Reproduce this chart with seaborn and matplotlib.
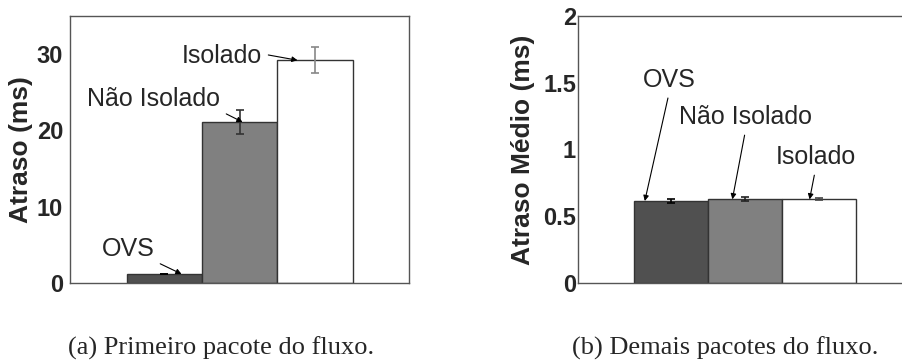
import numpy as np
import pandas as pd
import matplotlib
matplotlib.use('Agg')
import matplotlib.pyplot as plt
import seaborn as sns

# data
categorias = ['OVS', 'Não Isolado', 'Isolado']
cores = ['#505050', '#808080', '#ffffff']
atraso_primeiro = [1.18, 21.1, 29.2]
erro_primeiro = [0.06, 1.6, 1.7]
atraso_demais = [0.614, 0.627, 0.626]
erro_demais = [0.016, 0.016, 0.008]
ticks_a = [0, 10, 20, 30]
ticks_b = [0, 0.5, 1, 1.5, 2]
ticklabels_b = ['0', '0.5', '1', '1.5', '2']

# label positions (text x, text baseline y, arrow head x, arrow head y, relpos)
anot_a = [(-0.48, 3.54, 0.23, 1.18, (1, 0)),
          (-0.135, 23.2, 1.04, 21.1, (1, 0)),
          (0.77, 28.8, 1.77, 29.2, (1, 0.6))]
anot_b = [(-0.02, 1.468, -0.35, 0.614, (0.5, 0)),
          (1.01, 1.19, 0.83, 0.627, (0.5, 0)),
          (1.95, 0.89, 1.87, 0.626, (0.5, 0))]

sns.set_style('white')
plt.rcParams['font.family'] = ['Liberation Sans', 'DejaVu Sans']

fig = plt.figure(figsize=(9.02, 3.6), dpi=100)
ax1 = fig.add_axes([70/902, 77/360, 339/902, 267/360])
ax2 = fig.add_axes([578/902, 77/360, 334/902, 267/360])


def painel(ax, valores, erros, ylim, ticks, ticklabels, ylabel, anots, pad, labelx, errcores):
    df = pd.DataFrame({'cat': categorias, 'val': valores})
    sns.barplot(data=df, x='cat', y='val', hue='cat', palette=cores, legend=False,
                width=1.0, edgecolor='#333333', linewidth=1.0, ax=ax)
    for i in range(3):
        ax.errorbar(i, valores[i], yerr=erros[i], fmt='none', ecolor=errcores[i],
                    elinewidth=1.2, capsize=3, capthick=1.2)
    ax.set_xlim(-1.25, 3.25)
    ax.set_ylim(*ylim)
    ax.set_xticks([])
    ax.set_xlabel('')
    ax.set_yticks(ticks)
    ax.set_yticklabels(ticklabels, fontsize=17, fontweight='bold')
    ax.tick_params(axis='y', length=0, pad=pad)
    ax.set_ylabel(ylabel, fontsize=19, fontweight='bold')
    ax.yaxis.set_label_coords(labelx, 0.5)
    for s in ax.spines.values():
        s.set_color('#555555')
        s.set_linewidth(1.0)
    for (tx, ty, hx, hy, rp), nome in zip(anots, categorias):
        ax.annotate(nome, xy=(hx, hy), xytext=(tx, ty), ha='center', va='baseline',
                    fontsize=18,
                    arrowprops=dict(arrowstyle='-|>', color='black', lw=0.8,
                                    mutation_scale=8, shrinkA=2, shrinkB=0, relpos=rp))


painel(ax1, atraso_primeiro, erro_primeiro, (0, 35), ticks_a, [str(t) for t in ticks_a],
       'Atraso (ms)', anot_a, 5, -0.109, ['black', '#333333', '#888888'])
painel(ax2, atraso_demais, erro_demais, (0, 2), ticks_b, ticklabels_b,
       'Atraso Médio (ms)', anot_b, 1.5, -0.129, ['black', '#222222', '#444444'])

fig.text(68/902, 5/360, '(a) Primeiro pacote do fluxo.', family='Liberation Serif',
         fontsize=19, ha='left', va='baseline')
fig.text(572/902, 5/360, '(b) Demais pacotes do fluxo.', family='Liberation Serif',
         fontsize=19, ha='left', va='baseline')

fig.savefig('out.png', dpi=100)
